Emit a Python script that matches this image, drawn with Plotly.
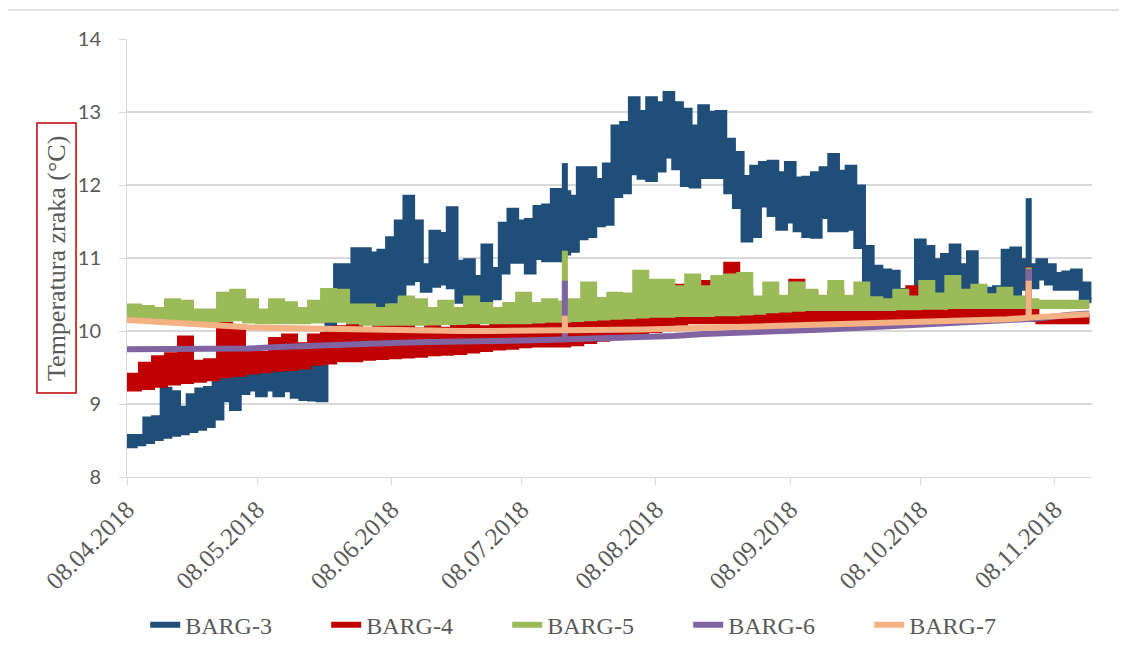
import pandas as pd
import plotly.graph_objects as go

# ---------------- data ----------------
start_date = "2018-04-08"
tick_dates = ["2018-04-08", "2018-05-08", "2018-06-08", "2018-07-08",
              "2018-08-08", "2018-09-08", "2018-10-08", "2018-11-08"]
tick_labels = ["08.04.2018", "08.05.2018", "08.06.2018", "08.07.2018",
               "08.08.2018", "08.09.2018", "08.10.2018", "08.11.2018"]
y_ticks = [8, 9, 10, 11, 12, 13, 14]

series_names = ["BARG-3", "BARG-4", "BARG-5", "BARG-6", "BARG-7"]
series_colors = ["#1F4E79", "#C00000", "#9BBB59", "#8064A2", "#F4B183"]

# BARG-3: daily-cycle envelope read every 2 days (days since 08.04.2018)
barg3_step = 2
barg3_high = [8.56, 8.56, 8.80, 8.82, 9.21, 9.16, 8.95, 9.12, 9.20, 9.22,
              9.55, 9.55, 9.58, 9.60, 9.60, 9.62, 9.62, 9.64, 9.65, 9.65,
              9.66, 9.68, 9.75, 10.50, 10.90, 10.90, 11.12, 11.12, 11.06, 11.10,
              11.27, 11.50, 11.84, 11.50, 10.90, 11.36, 11.33, 11.68, 10.95, 10.97,
              10.74, 11.17, 10.85, 11.47, 11.66, 11.50, 11.52, 11.70, 11.72, 11.93,
              11.90, 11.84, 12.23, 12.23, 12.07, 12.28, 12.80, 12.85, 13.19, 13.00,
              13.19, 13.12, 13.26, 13.12, 13.03, 12.80, 13.08, 12.99, 13.00, 12.62,
              12.44, 12.11, 12.25, 12.30, 12.32, 12.16, 12.30, 12.09, 12.10, 12.16,
              12.23, 12.41, 12.18, 12.25, 11.98, 11.15, 10.88, 10.83, 10.81, 10.56,
              10.56, 11.24, 11.15, 10.97, 11.04, 11.17, 10.90, 11.08, 10.60, 10.58,
              10.60, 11.10, 11.13, 10.97, 10.90, 10.97, 10.90, 10.78, 10.80, 10.83,
              10.65, 10.42]
barg3_low = [8.42, 8.45, 8.48, 8.52, 8.55, 8.58, 8.60, 8.63, 8.66, 8.70,
             8.80, 9.05, 8.93, 9.15, 9.20, 9.12, 9.20, 9.12, 9.19, 9.10,
             9.07, 9.06, 9.05, 9.80, 10.20, 10.30, 10.35, 10.37, 10.30, 10.28,
             10.40, 10.50, 10.65, 10.70, 10.55, 10.62, 10.65, 10.60, 10.40, 10.37,
             10.33, 10.40, 10.45, 10.80, 10.95, 10.95, 10.80, 11.00, 10.97, 10.97,
             11.06, 11.10, 11.27, 11.30, 11.45, 11.47, 11.85, 11.90, 12.16, 12.10,
             12.07, 12.20, 12.39, 12.23, 12.00, 11.98, 12.11, 12.11, 12.11, 11.90,
             11.70, 11.24, 11.30, 11.72, 11.59, 11.40, 11.50, 11.38, 11.30, 11.29,
             11.56, 11.38, 11.38, 11.40, 11.15, 10.50, 10.46, 10.46, 10.46, 10.42,
             10.42, 10.42, 10.45, 10.50, 10.51, 10.49, 10.46, 10.46, 10.40, 10.30,
             10.36, 10.50, 10.50, 10.58, 10.60, 10.72, 10.65, 10.58, 10.58, 10.58,
             10.44, 10.38]

# BARG-4 and BARG-5: envelope read every 3 days
barg45_step = 3
barg4_high = [9.40, 9.55, 9.64, 9.68, 9.91, 9.58, 9.60, 10.12, 10.00, 9.70,
              9.70, 9.89, 9.94, 9.82, 9.94, 9.96, 10.05, 10.07, 10.00, 10.05,
              10.07, 10.07, 10.02, 10.05, 10.03, 10.10, 10.10, 10.05, 10.10, 10.10,
              10.10, 10.10, 10.12, 10.12, 10.15, 10.18, 10.22, 10.23, 10.25, 10.28,
              10.28, 10.30, 10.62, 10.30, 10.67, 10.30, 10.92, 10.55, 10.33, 10.30,
              10.30, 10.69, 10.53, 10.30, 10.53, 10.30, 10.32, 10.28, 10.28, 10.28,
              10.60, 10.30, 10.33, 10.33, 10.30, 10.33, 10.30, 10.33, 10.30, 10.30,
              10.20, 10.20, 10.20, 10.20, 10.20]
barg4_low = [9.20, 9.22, 9.25, 9.28, 9.30, 9.32, 9.34, 9.38, 9.40, 9.43,
             9.45, 9.47, 9.48, 9.50, 9.55, 9.57, 9.60, 9.60, 9.62, 9.63,
             9.64, 9.65, 9.66, 9.68, 9.69, 9.70, 9.72, 9.74, 9.76, 9.77,
             9.79, 9.80, 9.80, 9.80, 9.82, 9.85, 9.88, 9.90, 9.93, 9.96,
             10.00, 10.05, 10.10, 10.12, 10.12, 10.12, 10.12, 10.12, 10.12, 10.12,
             10.12, 10.12, 10.12, 10.12, 10.12, 10.12, 10.12, 10.12, 10.12, 10.12,
             10.13, 10.15, 10.17, 10.18, 10.18, 10.18, 10.18, 10.18, 10.18, 10.15,
             10.12, 10.12, 10.12, 10.12, 10.12]
barg5_high = [10.35, 10.33, 10.30, 10.42, 10.40, 10.28, 10.28, 10.51, 10.55, 10.42,
              10.28, 10.42, 10.38, 10.30, 10.40, 10.56, 10.55, 10.35, 10.35, 10.30,
              10.35, 10.46, 10.42, 10.30, 10.40, 10.30, 10.46, 10.37, 10.30, 10.37,
              10.51, 10.37, 10.42, 10.39, 10.42, 10.65, 10.44, 10.51, 10.50, 10.81,
              10.69, 10.69, 10.60, 10.76, 10.60, 10.74, 10.76, 10.78, 10.46, 10.65,
              10.47, 10.65, 10.55, 10.47, 10.67, 10.47, 10.65, 10.45, 10.42, 10.55,
              10.46, 10.67, 10.50, 10.74, 10.55, 10.62, 10.49, 10.58, 10.46, 10.42,
              10.40, 10.40, 10.40, 10.40, 10.40]
barg5_low = [10.19, 10.18, 10.18, 10.17, 10.16, 10.15, 10.14, 10.15, 10.16, 10.13,
             10.12, 10.12, 10.12, 10.12, 10.13, 10.14, 10.14, 10.12, 10.10, 10.10,
             10.10, 10.10, 10.10, 10.11, 10.11, 10.11, 10.12, 10.12, 10.12, 10.12,
             10.12, 10.13, 10.14, 10.14, 10.15, 10.16, 10.17, 10.18, 10.19, 10.20,
             10.21, 10.21, 10.22, 10.22, 10.22, 10.23, 10.23, 10.24, 10.25, 10.27,
             10.28, 10.29, 10.30, 10.30, 10.30, 10.30, 10.30, 10.30, 10.30, 10.31,
             10.31, 10.32, 10.32, 10.33, 10.33, 10.33, 10.33, 10.33, 10.33, 10.33,
             10.33, 10.33, 10.33, 10.33, 10.33]

# BARG-6 and BARG-7: slow series read weekly
barg67_days = [0, 7, 14, 21, 28, 35, 42, 49, 56, 63, 70, 77, 84, 91, 98, 105,
               112, 119, 126, 133, 140, 147, 154, 161, 168, 175, 182, 189, 196,
               203, 210, 217, 222]
barg6_values = [9.75, 9.75, 9.74, 9.75, 9.76, 9.78, 9.80, 9.82, 9.83, 9.84,
                9.85, 9.85, 9.86, 9.87, 9.88, 9.89, 9.90, 9.91, 9.93, 9.96,
                9.97, 9.98, 10.00, 10.02, 10.04, 10.06, 10.08, 10.10, 10.12,
                10.14, 10.17, 10.22, 10.24]
barg7_values = [10.15, 10.12, 10.10, 10.07, 10.05, 10.04, 10.03, 10.02, 10.01,
                10.00, 10.00, 10.00, 10.00, 10.00, 10.00, 10.00, 10.01, 10.02,
                10.03, 10.04, 10.06, 10.07, 10.07, 10.08, 10.09, 10.10, 10.12,
                10.14, 10.15, 10.16, 10.19, 10.22, 10.23]

# single-reading spikes (day, base value, peak value)
barg3_spike_days = [101, 208]
barg3_spike_base = [11.06, 10.60]
barg3_spike_peak = [12.30, 11.82]
barg4_spike_days = [208]
barg4_spike_base = [10.15]
barg4_spike_peak = [10.88]
barg5_spike_days = [101, 208]
barg5_spike_base = [10.14, 10.33]
barg5_spike_peak = [11.10, 10.87]
barg6_spike_days = [101, 208]
barg6_spike_base = [9.88, 10.17]
barg6_spike_peak = [10.69, 10.85]
barg7_spike_days = [101, 208]
barg7_spike_base = [10.00, 10.19]
barg7_spike_peak = [10.21, 10.69]

axis_title = "Temperatura zraka (°C)"

# ---------------- figure ----------------
t0 = pd.Timestamp(start_date)


def to_dates(days):
    return [t0 + pd.Timedelta(days=d) for d in days]


fig = go.Figure()


def add_band(name, color, step, low, high):
    days = [i * step for i in range(len(low))]
    x = to_dates(days)
    fig.add_trace(go.Scatter(x=x, y=low, mode="lines", legendgroup=name,
                             line=dict(color=color, width=4, shape="hv"),
                             showlegend=False, hoverinfo="skip"))
    fig.add_trace(go.Scatter(x=x, y=high, mode="lines", legendgroup=name,
                             line=dict(color=color, width=4, shape="hv"),
                             fill="tonexty", fillcolor=color,
                             showlegend=False, hoverinfo="skip"))


def add_line(name, color, days, values):
    fig.add_trace(go.Scatter(x=to_dates(days), y=values, mode="lines",
                             legendgroup=name,
                             line=dict(color=color, width=6),
                             showlegend=False, hoverinfo="skip"))


def add_spikes(name, color, days, base, peak):
    xs, ys = [], []
    for d, b, p in zip(days, base, peak):
        xs += [t0 + pd.Timedelta(days=d), t0 + pd.Timedelta(days=d), None]
        ys += [b, p, None]
    fig.add_trace(go.Scatter(x=xs, y=ys, mode="lines", legendgroup=name,
                             line=dict(color=color, width=6),
                             showlegend=False, hoverinfo="skip"))


add_band(series_names[0], series_colors[0], barg3_step, barg3_low, barg3_high)
add_spikes(series_names[0], series_colors[0], barg3_spike_days, barg3_spike_base, barg3_spike_peak)
add_band(series_names[1], series_colors[1], barg45_step, barg4_low, barg4_high)
add_spikes(series_names[1], series_colors[1], barg4_spike_days, barg4_spike_base, barg4_spike_peak)
add_band(series_names[2], series_colors[2], barg45_step, barg5_low, barg5_high)
add_spikes(series_names[2], series_colors[2], barg5_spike_days, barg5_spike_base, barg5_spike_peak)
add_line(series_names[3], series_colors[3], barg67_days, barg6_values)
add_spikes(series_names[3], series_colors[3], barg6_spike_days, barg6_spike_base, barg6_spike_peak)
add_line(series_names[4], series_colors[4], barg67_days, barg7_values)
add_spikes(series_names[4], series_colors[4], barg7_spike_days, barg7_spike_base, barg7_spike_peak)

# legend entries
for name, color in zip(series_names, series_colors):
    fig.add_trace(go.Scatter(x=[None], y=[None], mode="lines", name=name,
                             legendgroup=name,
                             line=dict(color=color, width=6)))

GRID = "#d9d9d9"
TEXT = "#595959"

# the page body adds an 8 px offset, so the figure is 8 px smaller
fig.update_layout(
    width=1119, height=649,
    margin=dict(l=119, r=35, t=31, b=180, autoexpand=False),
    paper_bgcolor="white", plot_bgcolor="white",
    showlegend=True,
    legend=dict(orientation="h", xref="container", yref="container",
                x=0.527, xanchor="center", y=0.049, yanchor="middle",
                font=dict(family="Liberation Serif", size=24, color=TEXT),
                entrywidth=136, entrywidthmode="pixels",
                bgcolor="rgba(0,0,0,0)"),
    xaxis=dict(type="date", automargin=False,
               range=[t0, t0 + pd.Timedelta(days=222.6)],
               tickvals=tick_dates, ticktext=tick_labels, tickangle=-45,
               ticks="outside", ticklen=7, tickcolor=GRID,
               showline=True, linecolor=GRID, linewidth=1,
               showgrid=False, zeroline=False,
               tickfont=dict(family="Liberation Serif", size=25, color=TEXT)),
    yaxis=dict(range=[8, 14], tickvals=y_ticks, automargin=False,
               ticks="outside", ticklen=7, tickcolor=GRID,
               showline=True, linecolor=GRID, linewidth=1,
               showgrid=True, gridcolor=GRID, gridwidth=1.5, zeroline=False,
               ticklabelstandoff=14,
               tickfont=dict(family="Lato", size=20, color=TEXT)),
    shapes=[
        dict(type="rect", xref="paper", yref="paper",
             x0=-0.1244, x1=1.2, y0=-0.6, y1=1.0662,
             line=dict(color=GRID, width=1.5), layer="below"),
        dict(type="rect", xref="paper", yref="paper",
             x0=-0.0933, x1=-0.0528, y0=0.1918, y1=0.8082,
             line=dict(color="#C00000", width=1.5)),
    ],
    annotations=[
        dict(text=axis_title, xref="paper", yref="paper",
             x=-0.0736, y=0.5, xanchor="center", yanchor="middle",
             textangle=-90, showarrow=False,
             font=dict(family="Liberation Serif", size=26, color=TEXT)),
    ],
)

fig.write_html("out.html")
